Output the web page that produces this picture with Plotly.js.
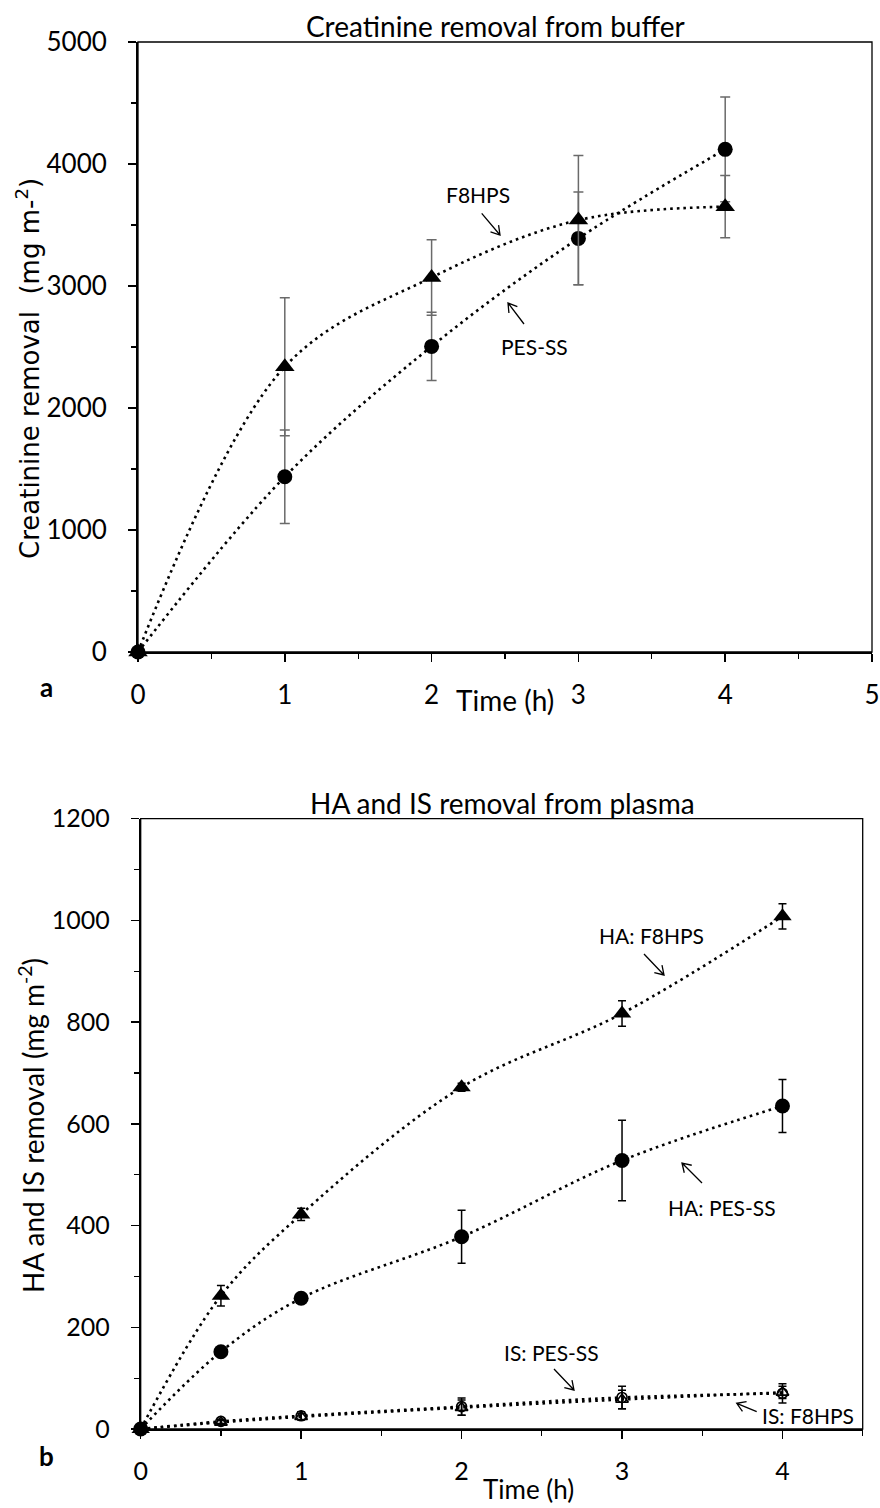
<!DOCTYPE html>
<html>
<head>
<meta charset="utf-8">
<script src="https://cdn.plot.ly/plotly-3.0.1.min.js"></script>
<style>html,body{margin:0;padding:0;background:#fff;}#chart{width:880px;height:1508px;}</style>
</head>
<body>
<div id="chart"></div>
<script>
// ---------- Panel a: creatinine removal from buffer ----------
const timeA = [0, 1, 2, 3, 4];
const creatF8HPS = [0, 2338, 3070, 3540, 3650];
const creatF8HPSErr = [0, 566, 310, 530, 255];
const creatPES = [0, 1436, 2505, 3390, 4120];
const creatPESErr = [0, 383, 280, 380, 430];

// ---------- Panel b: HA and IS removal from plasma ----------
const timeB = [0, 0.5, 1, 2, 3, 4];
const haF8HPS = [0, 262, 422, 672, 817, 1008];
const haF8HPSErr = [0, 20, 12, 8, 25, 25];
const haPES = [0, 152, 257, 378, 528, 635];
const haPESErr = [0, 6, 6, 52, 79, 52];
const isPES = [0, 15, 26, 44, 62, 70];
const isPESErr = [0, 4, 8, 17, 22, 19];
const isF8HPS = [0, 13, 24, 42, 58, 72];
const isF8HPSErr = [0, 4, 6, 15, 18, 12];

const tickValsA = [0, 1, 2, 3, 4, 5];
const tickValsB = [0, 1, 2, 3, 4];

const FONT = 'Lato, "Open sans", sans-serif';
const dotLine = {color: '#000', width: 2.6, dash: '2.6px,4px', shape: 'spline', smoothing: 1};

function series(x, y, err, xa, ya, symbol, size, errColor, errWidth, lineWidthMarker) {
  return {
    x: x, y: y, xaxis: xa, yaxis: ya, type: 'scatter', mode: 'lines+markers',
    line: dotLine, cliponaxis: false,
    marker: {symbol: symbol, size: size, color: '#000', line: {color: '#000', width: lineWidthMarker || 0}},
    error_y: {type: 'data', array: err, visible: true, color: errColor, thickness: 1.5, width: errWidth},
    showlegend: false, hoverinfo: 'skip'
  };
}

const data = [
  series(timeA, creatPES, creatPESErr, 'x', 'y', 'circle', 15, '#6a6a6a', 5),
  series(timeA, creatF8HPS, creatF8HPSErr, 'x', 'y', 'triangle-up', 17, '#6a6a6a', 5),
  series(timeB, isPES, isPESErr, 'x2', 'y2', 'circle-open', 10, '#000', 4, 1.6),
  series(timeB, isF8HPS, isF8HPSErr, 'x2', 'y2', 'triangle-up-open', 11, '#000', 4, 1.6),
  series(timeB, haPES, haPESErr, 'x2', 'y2', 'circle', 15, '#000', 4),
  series(timeB, haF8HPS, haF8HPSErr, 'x2', 'y2', 'triangle-up', 16, '#000', 4)
];

const W = 880, H = 1508;
const px = v => v / W;
const py = v => 1 - v / H;

function axisBase(extra) {
  return Object.assign({
    showgrid: false, zeroline: false, showline: true, linecolor: '#000', linewidth: 2,
    ticks: 'outside', ticklen: 8, tickwidth: 1.5, tickcolor: '#000',
    tickfont: {family: FONT, size: 26, color: '#000'}, fixedrange: true
  }, extra);
}

const annFont = {family: FONT, size: 21, color: '#000'};
function label(text, x, y, xref, yref) {
  return {text: text, x: x, y: y, xref: xref, yref: yref, showarrow: false, font: annFont, xanchor: 'center', yanchor: 'middle'};
}
// open "V" arrow drawn as a path shape, positions in page pixels
function arrowShape(tx, ty, hx, hy) {
  const dx = hx - tx, dy = hy - ty, len = Math.hypot(dx, dy);
  const ux = dx / len, uy = dy / len, L = 10, a = 32 * Math.PI / 180;
  const w1x = hx - L * (ux * Math.cos(a) - uy * Math.sin(a));
  const w1y = hy - L * (uy * Math.cos(a) + ux * Math.sin(a));
  const w2x = hx - L * (ux * Math.cos(a) + uy * Math.sin(a));
  const w2y = hy - L * (uy * Math.cos(a) - ux * Math.sin(a));
  const P = (x, y) => px(x).toFixed(5) + ',' + py(y).toFixed(5);
  return {type: 'path', xref: 'paper', yref: 'paper',
    path: 'M' + P(tx, ty) + 'L' + P(hx, hy) + 'M' + P(w1x, w1y) + 'L' + P(hx, hy) + 'L' + P(w2x, w2y),
    line: {color: '#000', width: 1.3}};
}

const titleFont = {family: FONT, size: 28, color: '#000'};
const layout = {
  width: W, height: H, margin: {l: 0, r: 0, t: 0, b: 0},
  paper_bgcolor: '#fff', plot_bgcolor: '#fff', showlegend: false,
  xaxis: axisBase({domain: [px(138), px(872)], range: [0, 5], anchor: 'y', tickvals: tickValsA,
    ticklabelstandoff: 11,
    minor: {dtick: 0.5, ticks: 'outside', ticklen: 5, tickwidth: 1.2, tickcolor: '#000', showgrid: false}}),
  yaxis: axisBase({domain: [py(652), py(42)], range: [0, 5000], anchor: 'x', dtick: 1000, ticklabelstandoff: 16,
    minor: {dtick: 500, ticks: 'outside', ticklen: 5, tickwidth: 1.2, tickcolor: '#000', showgrid: false}}),
  xaxis2: axisBase({domain: [px(140.7), px(862.7)], range: [0, 4.5], anchor: 'y2', tickvals: tickValsB,
    ticklabelstandoff: 11, tickfont: {family: FONT, size: 25, color: '#000'},
    minor: {dtick: 0.5, ticks: 'outside', ticklen: 5, tickwidth: 1.2, tickcolor: '#000', showgrid: false}}),
  yaxis2: axisBase({domain: [py(1429), py(818.7)], range: [0, 1200], anchor: 'x2', dtick: 200, ticklabelstandoff: 16,
    tickfont: {family: FONT, size: 25, color: '#000'},
    minor: {dtick: 100, ticks: 'outside', ticklen: 5, tickwidth: 1.2, tickcolor: '#000', showgrid: false}}),
  shapes: [
    {type: 'rect', xref: 'x domain', yref: 'y domain', x0: 0, x1: 1, y0: 0, y1: 1, line: {color: '#000', width: 1.3}},
    {type: 'rect', xref: 'x2 domain', yref: 'y2 domain', x0: 0, x1: 1, y0: 0, y1: 1, line: {color: '#000', width: 1.3}},
    arrowShape(481.7, 213.3, 500, 235),
    arrowShape(524, 324, 508, 303),
    arrowShape(644, 954, 664, 975),
    arrowShape(702, 1183, 682, 1163),
    arrowShape(554, 1369, 574, 1390),
    arrowShape(756.7, 1411.7, 736.7, 1403.3)
  ],
  annotations: [
    // titles
    {text: 'Creatinine removal from buffer', x: px(495), y: py(26), xref: 'paper', yref: 'paper', showarrow: false,
     font: titleFont, xanchor: 'center', yanchor: 'middle'},
    {text: 'HA and IS removal from plasma', x: px(502), y: py(803), xref: 'paper', yref: 'paper', showarrow: false,
     font: titleFont, xanchor: 'center', yanchor: 'middle'},
    // axis titles
    {text: 'Creatinine removal\u00a0 (mg m-<sup>2</sup>)', x: px(28), y: py(369), xref: 'paper', yref: 'paper', showarrow: false,
     textangle: -90, font: {family: '"DejaVu Sans", Verdana, sans-serif', size: 26, color: '#000'}, xanchor: 'center', yanchor: 'middle'},
    {text: 'HA and IS removal (mg m<sup>-2</sup>)', x: px(31), y: py(1126), xref: 'paper', yref: 'paper', showarrow: false,
     textangle: -90, font: titleFont, xanchor: 'center', yanchor: 'middle'},
    {text: 'Time (h)', x: px(505), y: py(700), xref: 'paper', yref: 'paper', showarrow: false,
     font: titleFont, xanchor: 'center', yanchor: 'middle'},
    {text: 'Time (h)', x: px(528), y: py(1489), xref: 'paper', yref: 'paper', showarrow: false,
     font: {family: FONT, size: 26, color: '#000'}, xanchor: 'center', yanchor: 'middle'},
    // panel letters
    {text: '<b>a</b>', x: px(46), y: py(687), xref: 'paper', yref: 'paper', showarrow: false,
     font: {family: FONT, size: 26, color: '#000'}, xanchor: 'center', yanchor: 'middle'},
    {text: '<b>b</b>', x: px(46), y: py(1456), xref: 'paper', yref: 'paper', showarrow: false,
     font: {family: FONT, size: 26, color: '#000'}, xanchor: 'center', yanchor: 'middle'},
    // panel a series labels
    label('F8HPS', 2.316, 3746, 'x', 'y'),
    label('PES-SS', 2.704, 2502, 'x', 'y'),
    // panel b series labels
    label('HA: F8HPS', 3.182, 970, 'x2', 'y2'),
    label('HA: PES-SS', 3.623, 436, 'x2', 'y2'),
    label('IS: PES-SS', 2.561, 151, 'x2', 'y2'),
    label('IS: F8HPS', 4.157, 27, 'x2', 'y2')
  ]
};

Plotly.newPlot('chart', data, layout, {displayModeBar: false, staticPlot: true});
</script>
</body>
</html>
